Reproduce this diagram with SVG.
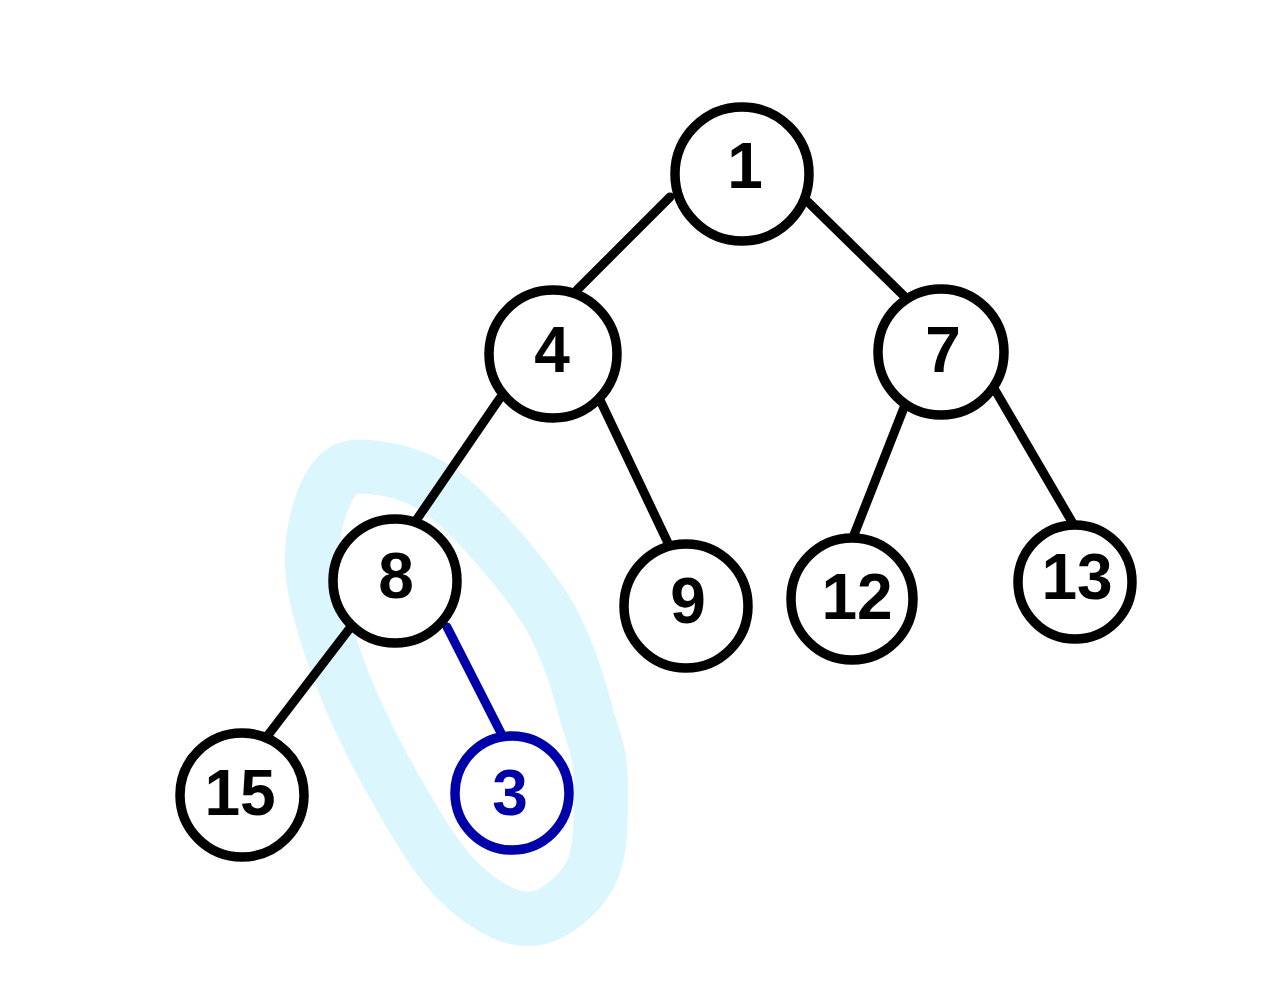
<svg xmlns="http://www.w3.org/2000/svg" width="1277" height="1000" viewBox="0 0 1277 1000">
<style>
.node circle{fill:#fff;stroke:#000;stroke-width:9.5}
.node text{font-family:"Liberation Sans","DejaVu Sans",sans-serif;font-weight:bold;font-size:64px;text-anchor:middle;dominant-baseline:central;fill:#000}
.edge{stroke:#000;stroke-width:9;stroke-linecap:round;fill:none}
#n3 circle{stroke:#0000a8}
#n3 text{fill:#0000a8}
.hl{fill:none;stroke:#dbf6fc;stroke-width:54;stroke-linejoin:round}
</style>
<rect width="1277" height="1000" fill="#fff"/>
<g id="highlight">
<path class="hl" d="M370,467 C390,469 420,474 448,497 C476,520 522,572 546,610 C568,646 580,690 588,720 C598,750 601,761 601,787 C601,813 602,853 590,875 C578,897 552,918 530,919 C508,920 482,904 460,883 C438,862 418,828 398,793 C378,758 354,711 340,673 C326,635 314,598 312,567 C310,536 320,502 330,485 C340,468 350,465 370,467 Z"/>
</g>
<g id="connectors">
<line class="edge" x1="670" y1="197" x2="577" y2="290"/>
<line class="edge" x1="808" y1="202" x2="905" y2="297"/>
<line class="edge" x1="500" y1="398" x2="415" y2="522"/>
<line class="edge" x1="600" y1="400" x2="668" y2="543"/>
<line class="edge" x1="905" y1="405" x2="850" y2="545"/>
<line class="edge" x1="995" y1="390" x2="1075" y2="527"/>
<line class="edge" x1="350" y1="628" x2="262" y2="743"/>
<line class="edge" x1="447" y1="627" x2="501" y2="733" style="stroke:#0000a8"/>
</g>
<g id="n1" class="node"><circle cx="742" cy="174" r="67"/><text x="745" y="166">1</text></g>
<g id="n4" class="node"><circle cx="553" cy="354" r="64"/><text x="552" y="350">4</text></g>
<g id="n7" class="node"><circle cx="941" cy="352" r="63"/><text x="943" y="350">7</text></g>
<g id="n8" class="node"><circle cx="395" cy="581" r="62"/><text x="396" y="576">8</text></g>
<g id="n9" class="node"><circle cx="686" cy="606" r="62"/><text x="688" y="601">9</text></g>
<g id="n12" class="node"><circle cx="852" cy="599" r="61"/><text x="857" y="597">12</text></g>
<g id="n13" class="node"><circle cx="1075" cy="582" r="57"/><text x="1077" y="577">13</text></g>
<g id="n15" class="node"><circle cx="242" cy="795" r="62"/><text x="240" y="793">15</text></g>
<g id="n3" class="node"><circle cx="512" cy="793" r="57"/><text x="510" y="793">3</text></g>
</svg>
